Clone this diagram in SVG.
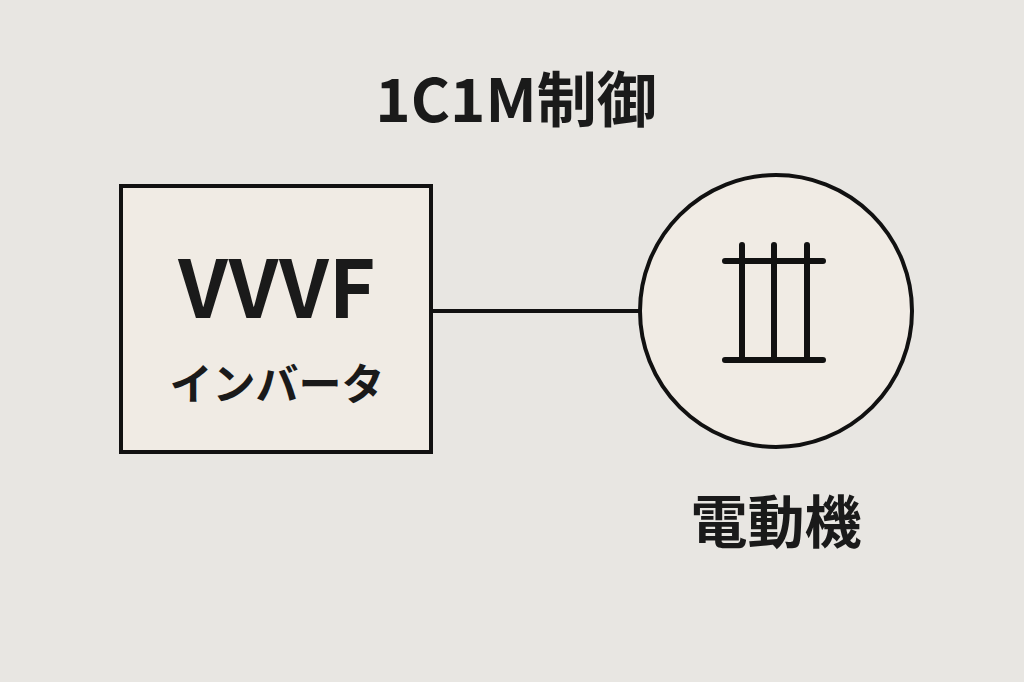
<svg xmlns="http://www.w3.org/2000/svg" width="1024" height="682" viewBox="0 0 1024 682">
<style>
.t{font-family:"Noto Sans CJK JP","Noto Sans",sans-serif;font-weight:bold;fill:#1a1a1a}
.s{stroke:#111;fill:#f0ebe4;stroke-width:4}
.sym{stroke:#111;stroke-width:6;stroke-linecap:round;fill:none}
</style>
<rect width="1024" height="682" fill="#e8e6e2"/>
<text class="t" x="516" y="122" font-size="60" text-anchor="middle">1C1M制御</text>
<g id="connectors"><line x1="431" y1="311" x2="640" y2="311" stroke="#111" stroke-width="4"/></g>
<g id="inverter">
<rect class="s" x="121" y="186" width="310" height="266"/>
<text class="t" x="277" y="318" font-size="80" text-anchor="middle">VVVF</text>
<text class="t" x="277" y="400" font-size="43" text-anchor="middle">インバータ</text>
</g>
<g id="motor">
<circle class="s" cx="776" cy="311" r="136"/>
<path class="sym" d="M742 245V360M774 245V360M807 245V360M725 261H823M725 360H823"/>
<text class="t" x="776" y="543" font-size="57" text-anchor="middle">電動機</text>
</g>
</svg>
